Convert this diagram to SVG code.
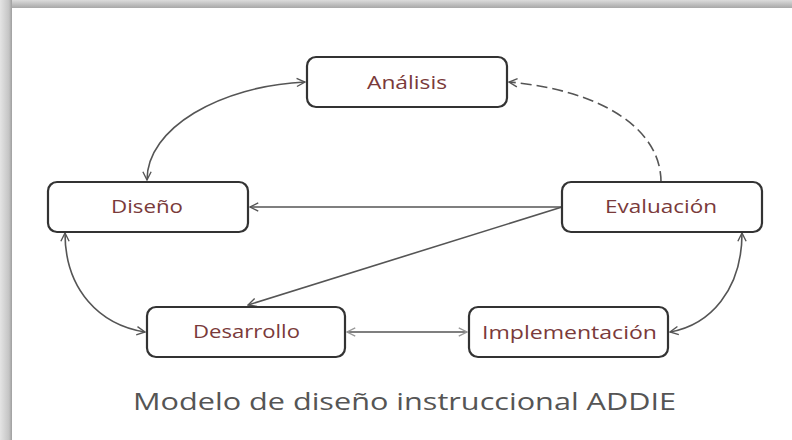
<svg xmlns="http://www.w3.org/2000/svg" width="792" height="440" viewBox="0 0 792 440">
<defs>
<linearGradient id="gTop" x1="0" y1="0" x2="0" y2="1">
<stop offset="0" stop-color="#dcdcdc"/>
<stop offset="1" stop-color="#a8a8a8"/>
</linearGradient>
<linearGradient id="gLeft" x1="0" y1="0" x2="1" y2="0">
<stop offset="0" stop-color="#e4e4e4"/>
<stop offset="0.75" stop-color="#c4c4c4"/>
<stop offset="1" stop-color="#9e9e9e"/>
</linearGradient>
<marker id="arr" viewBox="0 0 12 12" refX="11" refY="6" markerWidth="11" markerHeight="11" markerUnits="userSpaceOnUse" orient="auto-start-reverse">
<path d="M2,1.5 L11,6 L2,10.5" fill="none" stroke="#555" stroke-width="1.5"/>
</marker>
<marker id="arrL" viewBox="0 0 12 12" refX="11" refY="6" markerWidth="11" markerHeight="11" markerUnits="userSpaceOnUse" orient="auto-start-reverse">
<path d="M2,1.5 L11,6 L2,10.5" fill="none" stroke="#999" stroke-width="1.5"/>
</marker>
</defs>
<style>
.node rect{fill:#fff;stroke:#333;stroke-width:2.2}
.node text{font-family:"Open Sans","Liberation Sans",sans-serif;font-size:18px;fill:#7a3a3a;text-anchor:start}
.con{fill:none;stroke:#555;stroke-width:1.6}
.title{font-family:"Open Sans","Liberation Sans",sans-serif;font-size:23px;fill:#555}
</style>
<rect x="0" y="0" width="792" height="440" fill="#fff"/>
<rect x="0" y="0" width="792" height="8" fill="url(#gTop)"/>
<rect x="0" y="0" width="12" height="440" fill="url(#gLeft)"/>
<g id="connectors">
<path class="con" d="M147,180 C147,128 220,86 305,82" marker-start="url(#arr)" marker-end="url(#arr)"/>
<path class="con" d="M661,182 C661,128 600,90 509,82" stroke-dasharray="11,5" marker-end="url(#arr)"/>
<path class="con" d="M562,207 L250,207" marker-end="url(#arr)"/>
<path class="con" d="M562,207 L248,305" marker-end="url(#arr)"/>
<path class="con" d="M65,233 C65,290 100,325 145,332" marker-start="url(#arr)" marker-end="url(#arr)"/>
<path class="con" d="M742,233 C742,290 710,325 670,332" marker-start="url(#arr)" marker-end="url(#arr)"/>
<path class="con" d="M347,332 L467,332" stroke="#aaa" stroke-width="2" marker-start="url(#arrL)" marker-end="url(#arrL)"/>
</g>
<g id="analisis" class="node">
<rect x="307" y="57" width="200" height="50" rx="9"/>
<text x="367" y="89" textLength="80" lengthAdjust="spacingAndGlyphs">Análisis</text>
</g>
<g id="diseno" class="node">
<rect x="48" y="182" width="200" height="50" rx="9"/>
<text x="111" y="213" textLength="72" lengthAdjust="spacingAndGlyphs">Diseño</text>
</g>
<g id="evaluacion" class="node">
<rect x="562" y="182" width="200" height="50" rx="9"/>
<text x="605" y="213" textLength="112" lengthAdjust="spacingAndGlyphs">Evaluación</text>
</g>
<g id="desarrollo" class="node">
<rect x="147" y="307" width="198" height="50" rx="9"/>
<text x="193" y="338" textLength="107" lengthAdjust="spacingAndGlyphs">Desarrollo</text>
</g>
<g id="implementacion" class="node">
<rect x="469" y="307" width="199" height="50" rx="9"/>
<text x="482" y="339" textLength="175" lengthAdjust="spacingAndGlyphs">Implementación</text>
</g>
<text class="title" x="133" y="410" textLength="543" lengthAdjust="spacingAndGlyphs">Modelo de diseño instruccional ADDIE</text>
</svg>
